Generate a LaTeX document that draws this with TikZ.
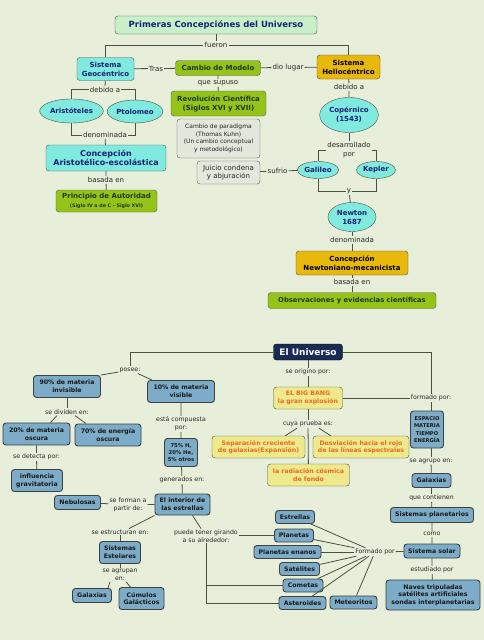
\documentclass[tikz,border=0pt]{standalone}
\usepackage{fontspec}
\setmainfont{DejaVu Sans}
\usetikzlibrary{shapes.geometric}

\definecolor{fondo}{RGB}{231,238,217}
\definecolor{cian}{RGB}{128,234,222}
\definecolor{verde}{RGB}{150,195,25}
\definecolor{ambar}{RGB}{232,184,10}
\definecolor{azul}{RGB}{124,172,200}
\definecolor{amarillo}{RGB}{238,233,140}
\definecolor{naranja}{RGB}{232,108,30}
\definecolor{marino}{RGB}{25,42,85}
\definecolor{tinta}{RGB}{22,34,115}
\definecolor{verdeosc}{RGB}{25,60,35}
\definecolor{menta}{RGB}{200,240,200}
\definecolor{nota}{RGB}{226,232,220}
\definecolor{linea}{RGB}{75,80,65}

\newcommand{\tam}[2]{\fontsize{#1}{#2}\selectfont}

\begin{document}
\begin{tikzpicture}[x=1pt, y=-1pt,
    dim/.style 2 args={minimum width=#1pt, minimum height=#2pt},
    conector/.style={draw=linea, line width=0.8pt},
    enlace/.style={fill=fondo, inner sep=1pt, align=center, font=\tam{7}{8.6}, text=black!85},
    enlaceb/.style={enlace, font=\tam{6.2}{7.7}},
    titulo/.style={
      draw=linea, fill=menta, rounded corners=3pt, inner sep=1pt,
      font=\bfseries\tam{8.5}{10}, text=tinta
    },
    cianbox/.style={
      draw=linea, fill=cian, rounded corners=3pt, inner sep=1pt,
      align=center, font=\bfseries\tam{7}{9}, text=tinta
    },
    cianell/.style={cianbox, ellipse},
    verdebox/.style={
      draw=verdeosc!80, fill=verde, rounded corners=3pt, inner sep=1pt,
      align=center, font=\bfseries\tam{7}{9}, text=verdeosc
    },
    ambarbox/.style={
      draw=linea, fill=ambar, rounded corners=3pt, inner sep=1pt,
      align=center, font=\bfseries\tam{7}{9}, text=black
    },
    notabox/.style={
      draw=gray!70!black, fill=nota, rounded corners=3pt, inner sep=1pt,
      align=center, font=\tam{6}{7.5}, text=black!85
    },
    azulbox/.style={
      draw=black!75, line width=0.9pt, fill=azul, rounded corners=3pt, inner sep=1pt,
      align=center, font=\bfseries\tam{6.2}{7.7}, text=black!90
    },
    amarbox/.style={
      draw=linea, fill=amarillo, rounded corners=3pt, inner sep=1pt,
      align=center, font=\bfseries\tam{6.2}{7.6}, text=naranja
    },
    univbox/.style={
      draw=black, fill=marino, rounded corners=3pt, inner sep=1pt,
      font=\bfseries\tam{9}{10}, text=white
    },
  ]
    \fill[fondo] (0,0) rectangle (484,640);
    \useasboundingbox (0,0) rectangle (484,640);

    % primeras concepciones
    \node[titulo, dim={202}{18}] (titulo) at (216,25) {Primeras Concepciónes del Universo};
    \node[enlace] (fueron) at (216,45) {fueron};
    \node[cianbox, dim={57}{23}] (geo) at (105.5,69) {Sistema\\Geocéntrico};
    \node[enlace] (tras) at (156,68.5) {Tras};
    \node[verdebox, dim={85}{15}] (cambio) at (218,68) {Cambio de Modelo};
    \node[enlace] (diolugar) at (288,67.5) {dio lugar};
    \node[ambarbox, dim={63}{24}] (helio) at (348.5,67) {Sistema\\Heliocéntrico};
    \node[enlace] (supuso) at (218,83) {que supuso};
    \node[verdebox, dim={95}{25}] (revol) at (218.5,103.5) {Revolución Científica\\(Siglos XVI y XVII)};
    \node[notabox, dim={83}{39}] (paradigma) at (218.5,138.5) {Cambio de paradigma\\(Thomas Kuhn)\\(Un cambio conceptual\\y metodológico)};
    \node[notabox, dim={63}{23}, font=\tam{7}{8.5}] (juicio) at (228.5,172.5) {Juicio condena\\y abjuración};
    \node[enlace] (sufrio) at (277.5,171) {sufrio};
    \node[cianell, dim={39}{17}] (galileo) at (318,170) {Galileo};
    \node[cianell, dim={33}{17}] (kepler) at (376,170) {Kepler};
    \node[enlace] (debidoR) at (349,87) {debido a};
    \node[cianell, dim={58}{35}] (copernico) at (349,115) {Copérnico\\(1543)};
    \node[enlace] (desarr) at (349,150) {desarrollado\\por};
    \node[enlace] (ylabel) at (349,191) {y};
    \node[cianell, dim={48}{29}] (newton) at (352,217) {Newton\\1687};
    \node[enlace] (denomR) at (352,240) {denominada};
    \node[ambarbox, dim={112}{24}] (concepN) at (352,263) {Concepción\\Newtoniano-mecanicista};
    \node[enlace] (basadaR) at (352,282) {basada en};
    \node[verdebox, dim={168}{16}, font=\bfseries\tam{6.8}{8}] (observ) at (352,300.5) {Observaciones y evidencias científicas};
    \node[enlace] (debidoL) at (105,89.5) {debido a};
    \node[cianell, dim={55}{24}] (aristoteles) at (71.5,111) {Aristóteles};
    \node[cianell, dim={48}{23}] (ptolomeo) at (135,111.5) {Ptolomeo};
    \node[enlace] (denomL) at (105,135) {denominada};
    \node[cianbox, dim={120}{26}, font=\bfseries\tam{8}{9.5}] (concepA) at (106,158) {Concepción\\Aristotélico-escolástica};
    \node[enlace] (basadaL) at (106,180) {basada en};
    \node[verdebox, dim={101}{22}] (principio) at (106.5,201) {Principio de Autoridad\\{\tam{4.8}{6}(Siglo IV a de C - Siglo XVI)}};

    \draw[conector] (titulo) -- (fueron);
    \draw[conector] (fueron.west) -| (geo);
    \draw[conector] (fueron.east) -| (helio);
    \draw[conector] (geo) -- (tras) -- (cambio);
    \draw[conector] (cambio) -- (diolugar) -- (helio);
    \draw[conector] (cambio) -- (supuso) -- (revol);
    \draw[conector] (juicio) -- (sufrio) -- (galileo);
    \draw[conector] (helio) -- (debidoR) -- (copernico);
    \draw[conector] (copernico) -- (desarr);
    \draw[conector] (desarr.west) -| (galileo);
    \draw[conector] (desarr.east) -| (kepler);
    \draw[conector] (galileo) |- (ylabel.west);
    \draw[conector] (kepler) |- (ylabel.east);
    \draw[conector] (ylabel) -- (newton);
    \draw[conector] (newton) -- (denomR) -- (concepN) -- (basadaR) -- (observ);
    \draw[conector] (geo) -- (debidoL);
    \draw[conector] (debidoL.west) -| (aristoteles);
    \draw[conector] (debidoL.east) -| (ptolomeo);
    \draw[conector] (aristoteles) |- (denomL.west);
    \draw[conector] (ptolomeo) |- (denomL.east);
    \draw[conector] (denomL) -- (concepA) -- (basadaL) -- (principio);

    % el universo
    \node[univbox, dim={69}{16}] (universo) at (308,352) {El Universo};
    \node[enlaceb] (posee) at (130,370) {posee:};
    \node[azulbox, dim={67}{22}] (m90) at (67,386.5) {90\% de materia\\invisible};
    \node[azulbox, dim={67}{22}] (m10) at (181,391.5) {10\% de materia\\visible};
    \node[enlaceb] (dividen) at (67,412) {se dividen en:};
    \node[azulbox, dim={67}{22}] (m20) at (36.5,434) {20\% de materia\\oscura};
    \node[azulbox, dim={66}{22}] (e70) at (108,435) {70\% de energía\\oscura};
    \node[enlaceb] (detecta) at (36.5,457) {se detecta por:};
    \node[azulbox, dim={51}{22}] (gravit) at (37,480.5) {influencia\\gravitatoria};
    \node[enlaceb] (compuesta) at (181,424) {está compuesta\\por:};
    \node[azulbox, dim={33}{28}, font=\bfseries\tam{5.3}{7}] (elementos) at (181,452.5) {75\% H,\\20\% He,\\5\% otros};
    \node[enlaceb] (generados) at (182,480) {generados en:};
    \node[azulbox, dim={55}{21}] (interior) at (182.5,504.5) {El interior de\\las estrellas};
    \node[azulbox, dim={46}{14}] (nebulosas) at (77.5,502.5) {Nebulosas};
    \node[enlaceb] (forman) at (128,504.5) {se forman a\\partir de:};
    \node[enlaceb] (estructuran) at (120,532) {se estructuran en:};
    \node[azulbox, dim={41}{22}] (sestelares) at (120,552.5) {Sistemas\\Estelares};
    \node[enlaceb] (agrupan) at (120,575) {se agrupan\\en:};
    \node[azulbox, dim={39}{14}] (galaxiasL) at (92,595.5) {Galaxias};
    \node[azulbox, dim={45}{22}] (cumulos) at (141.5,598.5) {Cúmulos\\Galácticos};
    \node[enlaceb] (puede) at (206,536) {puede tener girando\\a su alrededor:};
    \node[enlaceb] (origino) at (308,372) {se origino por:};
    \node[amarbox, dim={69}{22}] (bigbang) at (308,398) {EL BIG BANG\\la gran explosión};
    \node[enlaceb] (prueba) at (308,424) {cuya prueba es:};
    \node[amarbox, dim={93}{22}] (separacion) at (258.5,447) {Separación creciente\\de galaxias(Expansión)};
    \node[amarbox, dim={96}{22}] (desviacion) at (361,447) {Desviación hacia el rojo\\de las líneas espectrales};
    \node[amarbox, dim={82}{22}] (radiacion) at (308.5,475) {la radiación cósmica\\de fondo};
    \node[enlaceb] (formado) at (431,398) {formado por:};
    \node[azulbox, dim={33}{37}, font=\bfseries\tam{5.2}{7.3}] (espacio) at (427,429.5) {ESPACIO\\MATERIA\\TIEMPO\\ENERGÍA};
    \node[enlaceb] (agrupo) at (431,461) {se agrupo en:};
    \node[azulbox, dim={39}{14}] (galaxiasR) at (431.5,480.5) {Galaxias};
    \node[enlaceb] (contienen) at (431.5,498) {que contienen};
    \node[azulbox, dim={83}{15}] (splanet) at (432,515) {Sistemas planetarios};
    \node[enlaceb] (como) at (432,534) {como};
    \node[azulbox, dim={56}{14}] (ssolar) at (432,551) {Sistema solar};
    \node[enlaceb] (estudiado) at (432,570) {estudiado por};
    \node[azulbox, dim={94}{30}] (naves) at (433,595) {Naves tripuladas\\satélites artificiales\\sondas interplanetarias};
    \node[enlaceb] (fpor) at (375,552) {Formado por};
    \node[azulbox, dim={39}{13}] (estrellas) at (295,517) {Estrellas};
    \node[azulbox, dim={39}{13}] (planetas) at (294,535.5) {Planetas};
    \node[azulbox, dim={67}{13}] (enanos) at (287.5,552) {Planetas enanos};
    \node[azulbox, dim={40}{13}] (satelites) at (299.5,569) {Satélites};
    \node[azulbox, dim={40}{13}] (cometas) at (303,585.5) {Cometas};
    \node[azulbox, dim={47}{13}] (asteroides) at (302.5,603) {Asteroides};
    \node[azulbox, dim={47}{13}] (meteoritos) at (353.5,602.5) {Meteoritos};

    \draw[conector] (universo.west) -| (posee);
    \draw[conector] (posee) -- (m90.north east);
    \draw[conector] (posee) -- ([xshift=5pt]m10.north west);
    \draw[conector] (m90) -- (dividen);
    \draw[conector] ([xshift=-10pt]dividen.south) -- ([xshift=14pt]m20.north);
    \draw[conector] ([xshift=8pt]dividen.south) -- ([xshift=-22pt]e70.north);
    \draw[conector] (m20) -- (detecta) -- (gravit);
    \draw[conector] (m10) -- (compuesta) -- (elementos) -- (generados) -- (interior);
    \draw[conector] (nebulosas) -- (forman) -- (interior);
    \draw[conector] (interior.south west) -- ([xshift=9pt]estructuran.north);
    \draw[conector] (estructuran) -- (sestelares) -- (agrupan);
    \draw[conector] ([xshift=-10pt]agrupan.south) -- ([xshift=-4pt]galaxiasL.north east);
    \draw[conector] ([xshift=6pt]agrupan.south) -- ([xshift=-11pt]cumulos.north);
    \draw[conector] ([xshift=10pt]interior.south) -- ([xshift=-5pt]puede.north);
    \draw[conector] (puede.east |- planetas) -- (planetas);
    \draw[conector] (puede.south) |- (cometas);
    \draw[conector] (puede.south) |- (asteroides);
    \draw[conector] (universo) -- (origino) -- (bigbang) -- (prueba);
    \draw[conector] ([xshift=-11pt]prueba.south) -- ([xshift=-20pt]separacion.north east);
    \draw[conector] ([xshift=11pt]prueba.south) -- ([xshift=18pt]desviacion.north west);
    \draw[conector] (prueba) -- (radiacion);
    \draw[conector] (bigbang) -- (formado);
    \draw[conector] (universo.east) -| (formado);
    \draw[conector] (formado) -- (formado |- espacio.north);
    \draw[conector] (agrupo |- espacio.south) -- (agrupo);
    \draw[conector] (agrupo) -- (galaxiasR) -- (contienen) -- (splanet) -- (como) -- (ssolar) -- (estudiado) -- (naves);
    \draw[conector] (ssolar) -- (fpor);
    \foreach \c in {estrellas, planetas, enanos, satelites, cometas, asteroides, meteoritos}
      \draw[conector] (\c) -- (fpor);
\end{tikzpicture}
\end{document}
